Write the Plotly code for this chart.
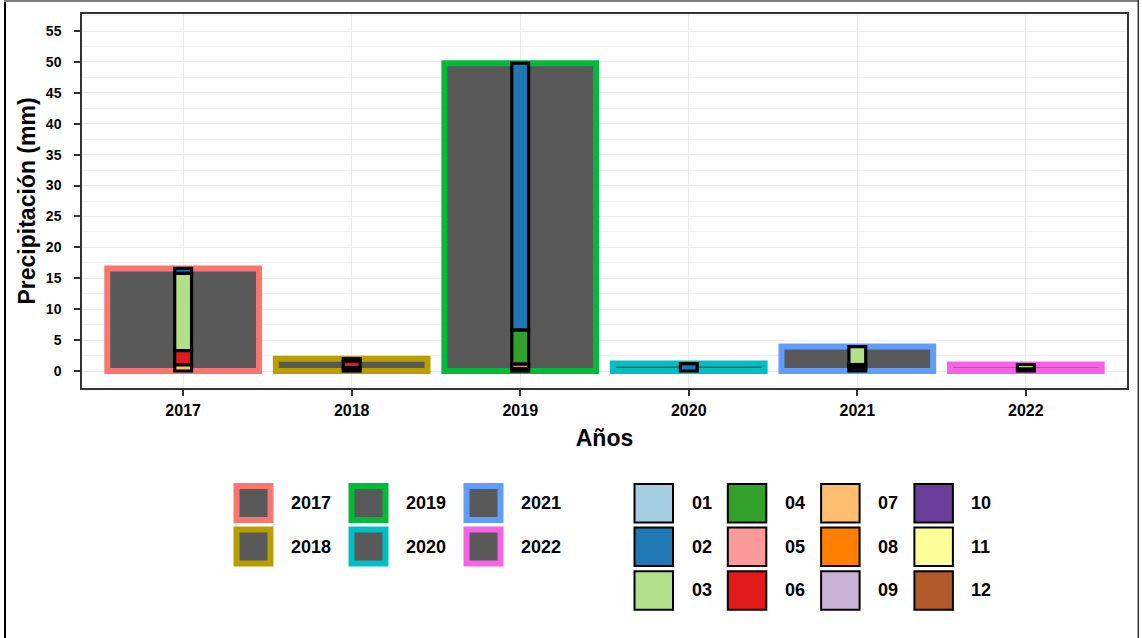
import plotly.graph_objects as go

# ---------------- data ----------------
years = ["2017", "2018", "2019", "2020", "2021", "2022"]
year_colors = ["#F8766D", "#B79F00", "#00BA38", "#00BFC4", "#619CFF", "#F564E3"]
months = ["01", "02", "03", "04", "05", "06", "07", "08", "09", "10", "11", "12"]
month_colors = ["#A6CEE3", "#1F78B4", "#B2DF8A", "#33A02C", "#FB9A99", "#E31A1C",
                "#FDBF6F", "#FF7F00", "#CAB2D6", "#6A3D9A", "#FFFF99", "#B15928"]

# monthly precipitation (mm) per year, months 01..12
p2017 = [0, 0.8, 12.5, 0, 0, 2.3, 1.0, 0, 0, 0, 0, 0]
p2018 = [0.4, 0, 0, 0, 0, 1.1, 0, 0.5, 0, 0, 0, 0]
p2019 = [0, 43.2, 0, 5.5, 0.7, 0, 0, 0, 0, 0.4, 0, 0]
p2020 = [0, 1.2, 0, 0, 0, 0, 0, 0, 0, 0, 0, 0]
p2021 = [0, 0, 2.9, 0, 0, 0.5, 0, 0, 0, 0.55, 0, 0]
p2022 = [0, 0, 0.75, 0, 0, 0, 0, 0, 0, 0, 0, 0.3]

y_ticks = [0, 5, 10, 15, 20, 25, 30, 35, 40, 45, 50, 55]

monthly = [p2017, p2018, p2019, p2020, p2021, p2022]
totals = [sum(v) for v in monthly]

FONT = "Liberation Sans, Arial, Helvetica, sans-serif"

# ---------------- layout geometry ----------------
W, H = 1142, 638
L, R, T, B = 82, 1127, 14, 388


def px_x(x):
    return (x - L) / (R - L)


def px_y(y):
    return (B - y) / (B - T)


fig = go.Figure()

# yearly totals (grey bars with coloured outline)
for yr, tot, col in zip(years, totals, year_colors):
    fig.add_trace(go.Bar(
        x=[yr], y=[tot], width=0.9,
        marker=dict(color="#595959", line=dict(color=col, width=6)),
        showlegend=False, hoverinfo="x+y", name=yr,
    ))

# monthly stacked narrow bars (month 01 on top, 12 at the bottom)
for mi, (mname, mcol) in enumerate(zip(months, month_colors)):
    xs, ys, bases = [], [], []
    for yr, vals in zip(years, monthly):
        v = vals[mi]
        if v > 0:
            xs.append(yr)
            ys.append(v)
            bases.append(sum(vals[mi + 1:]))
    if xs:
        fig.add_trace(go.Bar(
            x=xs, y=ys, base=bases, width=0.1,
            marker=dict(color=mcol, line=dict(color="black", width=3.2)),
            showlegend=False, name=mname,
        ))

# ---------------- legends (drawn as keys + labels) ----------------
shapes = []
annotations = []

# year legend: 3 columns x 2 rows, column-major
yl_x0, yl_y0, yl_dx, yl_dy = 233.5, 483, 115, 43.5
for i, (yr, col) in enumerate(zip(years, year_colors)):
    c, r = divmod(i, 2)
    kx = yl_x0 + c * yl_dx
    ky = yl_y0 + r * yl_dy
    shapes.append(dict(type="rect", xref="paper", yref="paper",
                       x0=px_x(kx + 3), x1=px_x(kx + 37),
                       y0=px_y(ky + 37), y1=px_y(ky + 3),
                       fillcolor="#595959", line=dict(color=col, width=6)))
    annotations.append(dict(xref="paper", yref="paper", x=px_x(kx + 55), y=px_y(ky + 20),
                            text=yr, showarrow=False, xanchor="left", yanchor="middle",
                            font=dict(family=FONT, size=18, color="black", weight="bold")))

# month legend: 4 columns x 3 rows, column-major
ml_x0, ml_y0, ml_dx, ml_dy = 633.5, 483, 93.3, 43.6
for i, (mname, mcol) in enumerate(zip(months, month_colors)):
    c, r = divmod(i, 3)
    kx = ml_x0 + c * ml_dx
    ky = ml_y0 + r * ml_dy
    shapes.append(dict(type="rect", xref="paper", yref="paper",
                       x0=px_x(kx + 1), x1=px_x(kx + 39.5),
                       y0=px_y(ky + 39.5), y1=px_y(ky + 1),
                       fillcolor=mcol, line=dict(color="black", width=2)))
    annotations.append(dict(xref="paper", yref="paper", x=px_x(kx + 56), y=px_y(ky + 20),
                            text=mname, showarrow=False, xanchor="left", yanchor="middle",
                            font=dict(family=FONT, size=18, color="black", weight="bold")))

# outer frame of the picture
shapes.append(dict(type="line", xref="paper", yref="paper",
                   x0=px_x(5), x1=px_x(5), y0=px_y(0), y1=px_y(640),
                   line=dict(color="black", width=2)))
shapes.append(dict(type="line", xref="paper", yref="paper",
                   x0=px_x(4), x1=px_x(1139), y0=px_y(1), y1=px_y(1),
                   line=dict(color="#7f7f7f", width=2)))
shapes.append(dict(type="line", xref="paper", yref="paper",
                   x0=px_x(1138.3), x1=px_x(1138.3), y0=px_y(0), y1=px_y(640),
                   line=dict(color="#333333", width=1.5)))

fig.update_layout(
    width=W, height=H,
    margin=dict(l=L, r=W - R, t=T, b=H - B, autoexpand=False),
    paper_bgcolor="white", plot_bgcolor="white",
    barmode="overlay",
    shapes=shapes, annotations=annotations,
    showlegend=False,
    font=dict(family=FONT, color="black"),
)

fig.update_xaxes(
    type="category", categoryorder="array", categoryarray=years,
    range=[-0.6, 5.6], automargin=False,
    showgrid=True, gridcolor="#EBEBEB", gridwidth=1.2,
    showline=True, linecolor="#333333", linewidth=1.5, mirror=True,
    ticks="outside", ticklen=6, tickwidth=1.5, tickcolor="#333333",
    ticklabelstandoff=1,
    tickfont=dict(family=FONT, size=16, color="black", weight="bold"),
    title=dict(text="Años", standoff=12,
               font=dict(family=FONT, size=23, color="black", weight="bold")),
)

fig.update_yaxes(
    range=[-2.75, 57.75], tickvals=y_ticks, ticktext=[str(v) for v in y_ticks],
    automargin=False,
    showgrid=True, gridcolor="#EBEBEB", gridwidth=1.2, zeroline=False,
    minor=dict(dtick=2.5, tick0=0, showgrid=True, gridcolor="#F2F2F2", gridwidth=0.8),
    showline=True, linecolor="#333333", linewidth=1.5, mirror=True,
    ticks="outside", ticklen=6, tickwidth=1.5, tickcolor="#333333",
    ticklabelstandoff=10,
    tickfont=dict(family=FONT, size=14, color="black", weight="bold"),
    title=dict(text="Precipitación (mm)", standoff=4,
               font=dict(family=FONT, size=23, color="black", weight="bold")),
)

fig.write_html("out.html",
               config={"displayModeBar": False},
               post_script="document.body.style.margin='0';document.body.style.overflow='hidden';")
